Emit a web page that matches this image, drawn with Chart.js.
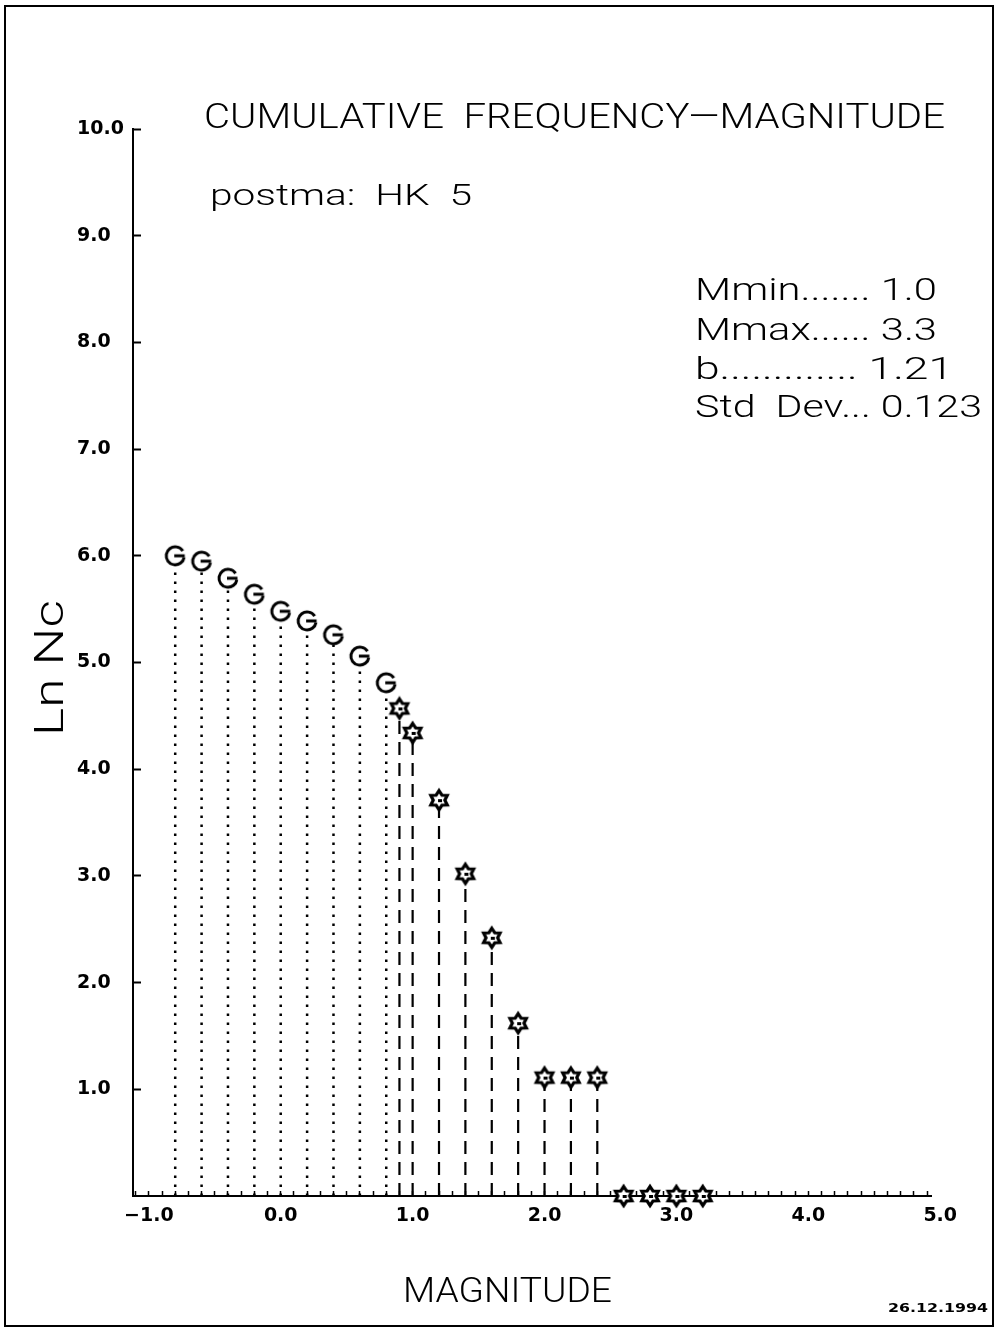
<!DOCTYPE html>
<html><head><meta charset="utf-8">
<script src="https://cdn.jsdelivr.net/npm/chart.js@4.4.1/dist/chart.umd.min.js"></script>
<style>html,body{margin:0;padding:0;background:#fff;}#wrap{width:998px;height:1328px;position:relative;}</style>
</head><body><div id="wrap"><canvas id="c" width="998" height="1328"></canvas></div>
<script>
// ---- data ----
const circleMag   = [-0.8, -0.6, -0.4, -0.2, 0.0, 0.2, 0.4, 0.6, 0.8];
const circleLnNc  = [6.00, 5.95, 5.79, 5.64, 5.48, 5.39, 5.26, 5.06, 4.81];
const starMag     = [0.9, 1.0, 1.2, 1.4, 1.6, 1.8, 2.0, 2.2, 2.4, 2.6, 2.8, 3.0, 3.2];
const starLnNc    = [4.57, 4.34, 3.71, 3.02, 2.42, 1.62, 1.11, 1.11, 1.11, 0, 0, 0, 0];
const xTickLabels = ['\u22121.0', '0.0', '1.0', '2.0', '3.0', '4.0', '5.0'];
const yTickLabels = ['1.0', '2.0', '3.0', '4.0', '5.0', '6.0', '7.0', '8.0', '9.0', '10.0'];
const titleText   = 'CUMULATIVE  FREQUENCY\u2014MAGNITUDE';
const subtitleText = 'postma:  HK  5';
const statLines   = ['Mmin....... 1.0', 'Mmax...... 3.3', 'b............. 1.21', 'Std  Dev... 0.123'];
const xTitle = 'MAGNITUDE';
const yTitle = 'Ln Nc';
const dateText = '26.12.1994';

// tick positions (minor every 0.1 on x, every 1 on y)
const xTickValues = [];
for (let i = -11; i <= 49; i++) xTickValues.push(i / 10);
xTickValues.push(5.0);
const yTickValues = [];
for (let i = 0; i <= 10; i++) yTickValues.push(i);

// stems built from the data (point -> axis), separated by gaps
function stems(mags, vals) {
  const out = [];
  mags.forEach((m, i) => { out.push({x: m, y: 0}); out.push({x: m, y: vals[i]}); out.push({x: m, y: null}); });
  return out;
}
const toPts = (mags, vals) => mags.map((m, i) => ({x: m, y: vals[i]}));

// marker glyphs
function circleGlyph() {
  const c = document.createElement('canvas'); c.width = 26; c.height = 26;
  const g = c.getContext('2d');
  g.fillStyle = '#fff'; g.beginPath(); g.arc(13, 13, 9.5, 0, Math.PI * 2); g.fill();
  g.strokeStyle = '#000'; g.lineWidth = 3;
  g.beginPath(); g.arc(13, 13, 9, 0.05 * Math.PI, 1.82 * Math.PI); g.stroke();
  g.beginPath(); g.moveTo(12, 13); g.lineTo(22.5, 13); g.stroke();
  return c;
}
function starGlyph() {
  const c = document.createElement('canvas'); c.width = 26; c.height = 26;
  const g = c.getContext('2d');
  g.beginPath();
  for (let k = 0; k < 12; k++) {
    const r = (k % 2 === 0) ? 9.5 : 5.8;
    const a = -Math.PI / 2 + k * Math.PI / 6;
    const px = 13 + r * Math.cos(a), py = 13 + r * Math.sin(a);
    if (k === 0) g.moveTo(px, py); else g.lineTo(px, py);
  }
  g.closePath();
  g.fillStyle = '#fff'; g.fill();
  g.strokeStyle = '#000'; g.lineWidth = 3.2; g.stroke();
  g.fillStyle = '#000'; g.fillRect(12, 12, 4, 3);
  return c;
}
const circleImg = circleGlyph();
const starImg = starGlyph();

function fitText(ctx, text, x, y, font, width, align) {
  ctx.save();
  ctx.font = font;
  ctx.textAlign = 'left';
  ctx.textBaseline = 'alphabetic';
  const w = ctx.measureText(text).width;
  const s = width / w;
  let x0 = x;
  if (align === 'center') x0 = x - width / 2;
  ctx.translate(x0, y);
  ctx.scale(s, 1);
  ctx.fillText(text, 0, 0);
  ctx.restore();
}

const decor = {
  id: 'decor',
  afterDraw(chart) {
    const ctx = chart.ctx;
    ctx.save();
    ctx.fillStyle = '#000';
    ctx.strokeStyle = '#000';
    // page frame
    ctx.lineWidth = 2;
    ctx.strokeRect(5, 6, 988, 1320);
    // title & subtitle
    fitText(ctx, titleText, 204, 128, '300 35px Roboto', 741);
    fitText(ctx, subtitleText, 210, 205, '300 30px Roboto', 262);
    // statistics block
    const statY = [300, 340, 379, 417];
    const statW = [242, 242, 258, 287];
    statLines.forEach((t, i) => fitText(ctx, t, 695, statY[i], '300 31px Roboto', statW[i]));
    // axis titles
    fitText(ctx, xTitle, 403, 1302, '300 35px Roboto', 209);
    ctx.save();
    ctx.translate(63, 668);
    ctx.rotate(-Math.PI / 2);
    fitText(ctx, yTitle, 0, 0, '300 40px Roboto', 136, 'center');
    ctx.restore();
    // date
    fitText(ctx, dateText, 888, 1312, 'bold 13px "DejaVu Sans"', 100);
    ctx.restore();
  }
};

const tickFont = {family: 'DejaVu Sans', weight: 'bold', size: 19};

new Chart(document.getElementById('c'), {
  type: 'scatter',
  data: {
    datasets: [
      {label: 'circles', data: toPts(circleMag, circleLnNc), pointStyle: circleImg, pointRadius: 10, showLine: false, clip: false, order: 0},
      {label: 'stars', data: toPts(starMag, starLnNc), pointStyle: starImg, pointRadius: 10, showLine: false, clip: false, order: 0},
      {label: 'circleStems', data: stems(circleMag, circleLnNc), showLine: true, spanGaps: false, pointRadius: 0,
        borderColor: '#000', borderWidth: 2.5, borderDash: [2.5, 6.5], clip: false, order: 1},
      {label: 'starStems', data: stems(starMag, starLnNc), showLine: true, spanGaps: false, pointRadius: 0,
        borderColor: '#000', borderWidth: 2.2, borderDash: [13, 8], clip: false, order: 1}
    ]
  },
  options: {
    responsive: false,
    animation: false,
    devicePixelRatio: 1,
    layout: {padding: {left: 77, top: 129, right: 67, bottom: 0}},
    plugins: {legend: {display: false}, tooltip: {enabled: false}, title: {display: false}},
    scales: {
      x: {
        type: 'linear', position: 'bottom', min: -1.12, max: 4.93,
        border: {display: true, color: '#000', width: 2},
        grid: {drawOnChartArea: false, tickLength: -5, tickWidth: 1.5,
          tickColor: (c) => (c.tick && c.tick.value > 4.95) ? 'rgba(0,0,0,0)' : '#000'},
        ticks: {autoSkip: false, maxRotation: 0, minRotation: 0, padding: 14, color: '#000', font: tickFont,
          callback: (v) => {
            const r = Math.round(v);
            return Math.abs(v - r) < 1e-6 ? xTickLabels[r + 1] : '';
          }},
        afterBuildTicks: (s) => { s.ticks = xTickValues.map(v => ({value: v})); },
        afterFit: (s) => { s.height = 132; }
      },
      y: {
        type: 'linear', position: 'left', min: 0, max: 10,
        border: {display: true, color: '#000', width: 2},
        grid: {drawOnChartArea: false, tickLength: -8, tickWidth: 2,
          tickColor: (c) => (c.tick && c.tick.value === 0) ? 'rgba(0,0,0,0)' : '#000'},
        ticks: {crossAlign: 'far', padding: 0, color: '#000', font: tickFont,
          callback: (v) => (v >= 1 ? yTickLabels[Math.round(v) - 1] : '')},
        afterBuildTicks: (s) => { s.ticks = yTickValues.map(v => ({value: v})); },
        afterFit: (s) => { s.width = 56; }
      }
    }
  },
  plugins: [decor]
});
</script>
</body></html>
